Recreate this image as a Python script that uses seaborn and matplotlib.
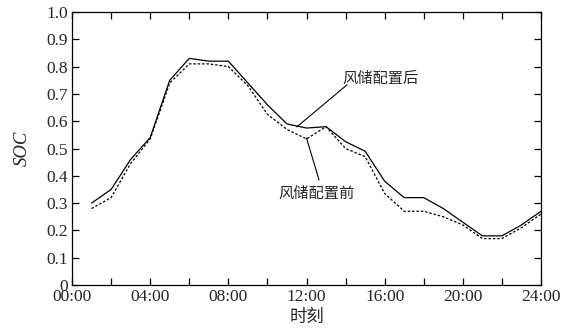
import matplotlib
matplotlib.use("Agg")
import matplotlib.pyplot as plt
import seaborn as sns
import pandas as pd
from matplotlib.ticker import MultipleLocator, FuncFormatter

# data (hourly SOC)
hours = list(range(1, 25))
soc_after = [0.30, 0.35, 0.46, 0.54, 0.75, 0.83, 0.82, 0.82, 0.74, 0.66, 0.59, 0.575,
             0.58, 0.525, 0.49, 0.38, 0.32, 0.32, 0.28, 0.23, 0.18, 0.18, 0.22, 0.27]
soc_before = [0.28, 0.32, 0.445, 0.535, 0.74, 0.81, 0.81, 0.80, 0.73, 0.625, 0.57, 0.535,
              0.58, 0.50, 0.47, 0.335, 0.27, 0.27, 0.25, 0.22, 0.17, 0.17, 0.21, 0.26]
series_names = ["风储配置后", "风储配置前"]

df = pd.DataFrame({
    "hour": hours * 2,
    "soc": soc_after + soc_before,
    "case": [series_names[0]] * 24 + [series_names[1]] * 24,
})

sns.set_theme(style="ticks")
plt.rcParams["font.family"] = ["Liberation Serif", "Noto Sans CJK SC"]

fig = plt.figure(figsize=(5.68, 3.31), dpi=100)
ax = fig.add_axes([0.1268, 0.139, 0.8257, 0.8247])

sns.lineplot(data=df, x="hour", y="soc", hue="case", style="case",
             palette=["black", "black"],
             dashes={series_names[0]: "", series_names[1]: (2, 1.5)},
             linewidth=0.9, legend=False, ax=ax)

ax.set_xlim(0, 24)
ax.set_ylim(0, 1.0)
ax.xaxis.set_major_locator(MultipleLocator(4))
ax.xaxis.set_minor_locator(MultipleLocator(2))
ax.xaxis.set_major_formatter(FuncFormatter(lambda v, p: f"{int(v):02d}:00"))
ax.yaxis.set_major_locator(MultipleLocator(0.1))
ax.yaxis.set_major_formatter(FuncFormatter(lambda v, p: "0" if abs(v) < 1e-9 else f"{v:.1f}"))

ax.tick_params(which="both", direction="in", top=True, right=True,
               labelsize=12.5, color="black", pad=3)
ax.tick_params(which="major", length=5, width=0.9)
ax.tick_params(which="minor", length=5, width=0.9)
for s in ax.spines.values():
    s.set_linewidth(0.9)
    s.set_color("black")

ax.set_xlabel("时刻", fontsize=12.5, family=["Noto Sans CJK SC"], labelpad=2)
ax.set_ylabel("SOC", fontsize=13.5, style="italic", labelpad=11)

# annotations
ax.text(15.8, 0.758, series_names[0], fontsize=11, ha="center", va="center",
        family=["Noto Sans CJK SC"])
ax.annotate("", xy=(11.5, 0.579), xytext=(14.07, 0.733),
            arrowprops=dict(arrowstyle="-", color="black", lw=0.8,
                            shrinkA=0, shrinkB=0))
ax.text(12.5, 0.337, series_names[1], fontsize=11, ha="center", va="center",
        family=["Noto Sans CJK SC"])
ax.annotate("", xy=(12.0, 0.538), xytext=(12.64, 0.385),
            arrowprops=dict(arrowstyle="-", color="black", lw=0.8,
                            shrinkA=0, shrinkB=0))

fig.savefig("out.png", dpi=100)
